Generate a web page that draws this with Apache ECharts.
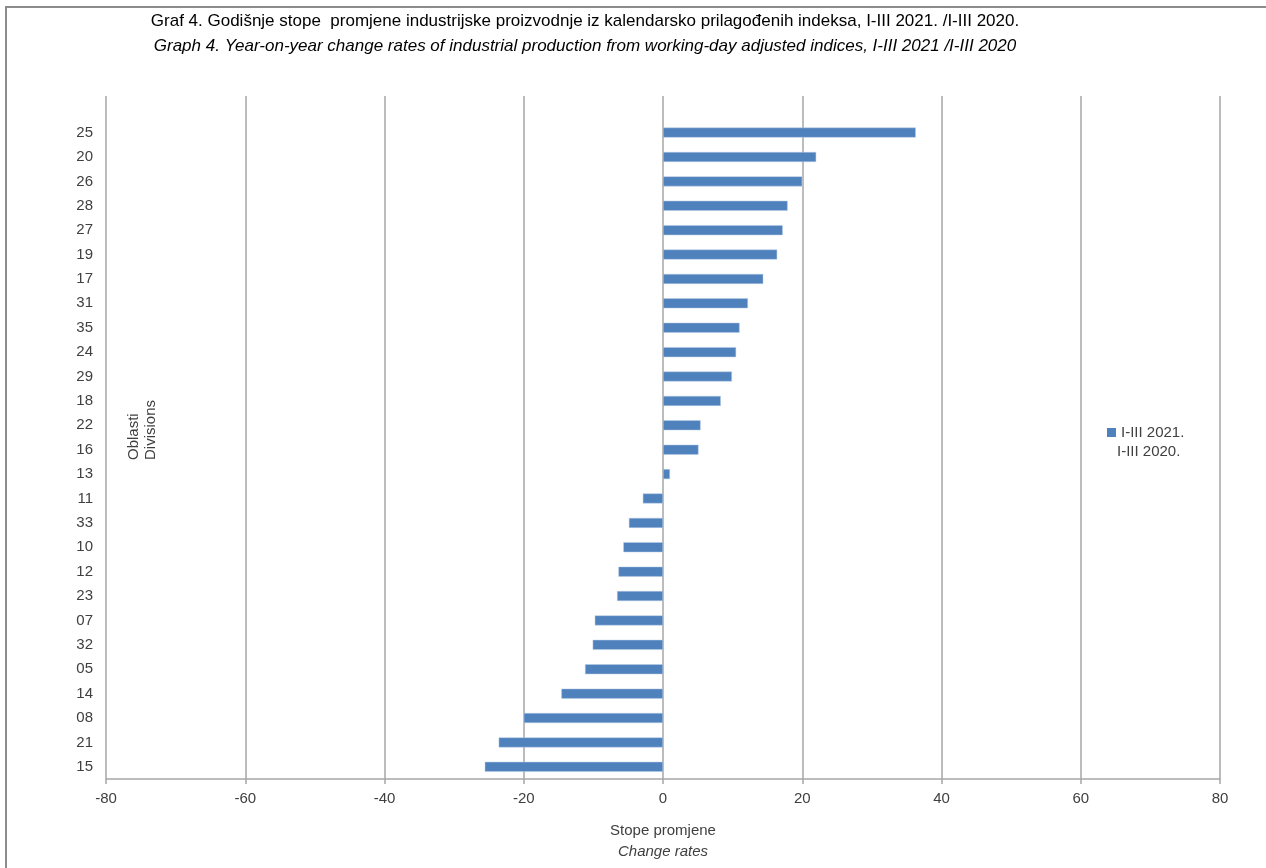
<!DOCTYPE html>
<html>
<head>
<meta charset="utf-8">
<script src="https://cdn.jsdelivr.net/npm/echarts@6/dist/echarts.min.js"></script>
<style>html,body{margin:0;padding:0;background:#fff;}#c{width:1266px;height:868px;}</style>
</head>
<body>
<div id="c"></div>
<script>
const divisions = ['','25','20','26','28','27','19','17','31','35','24','29','18','22','16','13','11','33','10','12','23','07','32','05','14','08','21','15'];
const values = [null,36.3,22.0,20.0,17.9,17.2,16.4,14.4,12.2,11.0,10.5,9.9,8.3,5.4,5.1,1.0,-2.9,-4.9,-5.7,-6.4,-6.6,-9.8,-10.1,-11.2,-14.6,-20.0,-23.6,-25.6];
const xTicks = [-80,-60,-40,-20,0,20,40,60,80];
const seriesName = 'I-III 2021.';
const seriesName2 = 'I-III 2020.';
const titleHr = 'Graf 4. Godišnje stope  promjene industrijske proizvodnje iz kalendarsko prilagođenih indeksa, I-III 2021. /I-III 2020.';
const titleEn = 'Graph 4. Year-on-year change rates of industrial production from working-day adjusted indices, I-III 2021 /I-III 2020';

const FN = '"Liberation Sans Narrow","Arial Narrow","Liberation Sans",sans-serif';
const chart = echarts.init(document.getElementById('c'));
chart.setOption({
  backgroundColor: '#fff',
  animation: false,
  grid: {left: 106, right: 46, top: 96, bottom: 89},
  xAxis: {
    type: 'value', min: xTicks[0], max: xTicks[xTicks.length-1], interval: 20,
    axisLine: {show: true, onZero: false, lineStyle: {color: '#a6a6a6', width: 1.5}},
    axisTick: {show: true, length: 5, lineStyle: {color: '#a6a6a6', width: 1.5}},
    axisLabel: {color: '#404040', fontFamily: FN, fontSize: 15, margin: 12},
    splitLine: {show: true, lineStyle: {color: '#a6a6a6', width: 1.5}}
  },
  yAxis: {
    type: 'category', data: divisions, inverse: true,
    axisLine: {show: false},
    axisTick: {show: false},
    axisLabel: {color: '#404040', fontFamily: FN, fontSize: 15, margin: 13}
  },
  legend: {
    show: true, data: [{name: seriesName, icon: 'rect', itemStyle: {color: '#4f81bd', borderWidth: 0}}], left: 1102, top: 420, orient: 'vertical',
    itemWidth: 9, itemHeight: 9, itemGap: 4,
    textStyle: {color: '#404040', fontFamily: FN, fontSize: 15}
  },
  series: [{
    name: seriesName, type: 'bar', data: values, barWidth: 10,
    itemStyle: {color: '#4f81bd', borderColor: '#b9cde5', borderWidth: 0.5}
  }],
  graphic: [
    {type: 'rect', shape: {x: 6, y: 7, width: 1300, height: 900}, style: {fill: 'none', stroke: '#8c8c8c', lineWidth: 2}, silent: true},
    {type: 'text', x: 585, y: 13, style: {text: titleHr, font: '17px ' + FN, fill: '#000', align: 'center'}},
    {type: 'text', x: 585, y: 38, style: {text: titleEn, font: 'italic 17px ' + FN, fill: '#000', align: 'center'}},
    {type: 'text', x: 125, y: 460, rotation: Math.PI/2, style: {text: 'Oblasti\nDivisions', font: '15px ' + FN, fill: '#404040', align: 'left', verticalAlign: 'top', lineHeight: 17}},
    {type: 'text', x: 663, y: 823, style: {text: 'Stope promjene', font: '15px ' + FN, fill: '#404040', align: 'center'}},
    {type: 'text', x: 663, y: 844, style: {text: 'Change rates', font: 'italic 15px ' + FN, fill: '#404040', align: 'center'}},
    {type: 'text', x: 1117, y: 444, style: {text: seriesName2, font: '15px ' + FN, fill: '#404040'}}
  ]
});
</script>
</body>
</html>
